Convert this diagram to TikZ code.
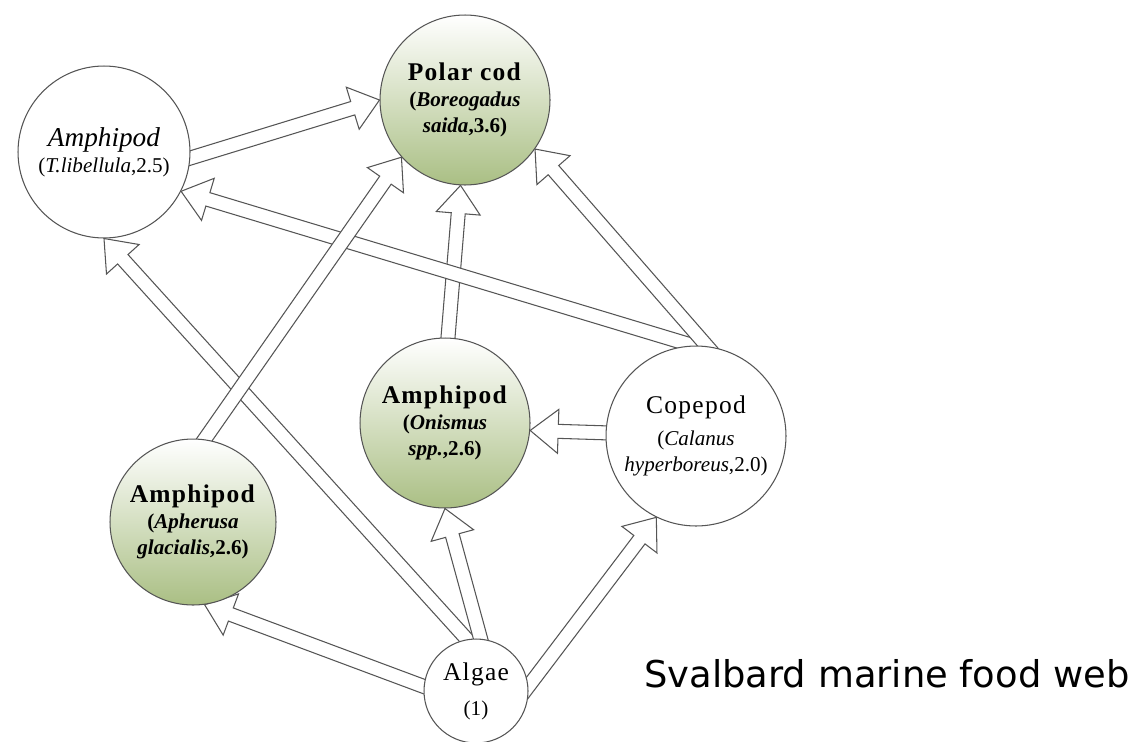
\documentclass[tikz,border=0pt]{standalone}
\usepackage{fontspec}
\setmainfont{Liberation Serif}
\newfontfamily\webfont{DejaVu Sans}
\usetikzlibrary{calc,backgrounds}

\definecolor{rim}{RGB}{85,85,85}
\definecolor{olive}{RGB}{170,191,132}

\newcommand{\namefont}{\fontsize{14.5}{15}\selectfont\addfontfeature{LetterSpace=5}}
\newcommand{\latinfont}{\fontsize{12}{15}\selectfont}

% hollow block arrow between two border points
\newcommand{\feed}[2]{%
  \coordinate (fs) at ($(#1)!-0.2cm!(#2)$);
  \coordinate (ft) at (#2);
  \coordinate (fb) at ($(ft)!0.56cm!(fs)$);
  \draw[arrowline] ($(fs)!0.14cm!90:(ft)$) -- ($(fb)!0.14cm!90:(ft)$)
    -- ($(fb)!0.44cm!90:(ft)$) -- (ft) -- ($(fb)!0.44cm!-90:(ft)$)
    -- ($(fb)!0.14cm!-90:(ft)$) -- ($(fs)!0.14cm!-90:(ft)$) -- cycle;
}

\begin{document}
\begin{tikzpicture}[x=0.02cm, y=-0.02cm,
    species/.style={circle, draw=rim, line width=0.6pt, inner sep=0pt,
      align=center, font=\latinfont},
    olivenode/.style={species, top color=white, bottom color=olive},
    whitenode/.style={species, fill=white},
    arrowline/.style={draw=rim, fill=white, line width=0.6pt, line join=miter}]
  \useasboundingbox (0,0) rectangle (1131,741);

  % polar cod
  \node[olivenode, minimum size=3.4cm] (pcod) at (465,100)
    {\namefont\textbf{Polar cod}\\\textbf{(\textit{Boreogadus}}\\\textbf{\textit{saida},3.6)}};
  % amphipods
  \node[whitenode, minimum size=3.44cm] (tlib) at (104,152)
    {\fontsize{15.5}{15}\selectfont\textit{Amphipod}\\(\textit{T.libellula},2.5)};
  \node[olivenode, minimum size=3.4cm] (onis) at (445,423)
    {\namefont\textbf{Amphipod}\\\textbf{(\textit{Onismus}}\\\textbf{\textit{spp.},2.6)}};
  \node[olivenode, minimum size=3.32cm] (aphe) at (193,522)
    {\namefont\textbf{Amphipod}\\\textbf{(\textit{Apherusa}}\\\textbf{\textit{glacialis},2.6)}};
  % copepod
  \node[whitenode, minimum size=3.6cm] (cope) at (696,436)
    {\namefont Copepod\\[3pt](\textit{Calanus}\\\textit{hyperboreus},2.0)};
  % algae
  \node[whitenode, minimum size=2.08cm] (alg) at (476,691)
    {\namefont Algae\\[5pt](1)};

  \node[anchor=base west, font=\webfont\fontsize{21}{26}\selectfont] (title) at (638,687)
    {Svalbard marine food web};

  % who eats whom
  \begin{scope}[on background layer]
    \feed{tlib.-4}{pcod.180}
    \feed{onis.88}{pcod.267}
    \feed{cope.92}{tlib.-27}
    \feed{cope.83}{pcod.-35}
    \feed{alg.100}{tlib.270}
    \feed{aphe.82}{pcod.222}
    \feed{alg.85}{onis.270}
    \feed{alg.175}{aphe.278}
    \feed{alg.5}{cope.244}
    \feed{cope.178}{onis.-5}
  \end{scope}
\end{tikzpicture}
\end{document}
